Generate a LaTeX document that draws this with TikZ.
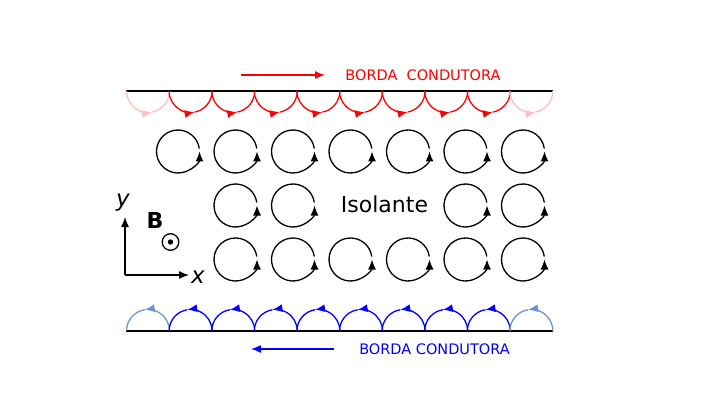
\documentclass[tikz,border=0pt]{standalone}
\usepackage{fontspec}
\setmainfont{DejaVu Sans}
\usetikzlibrary{arrows.meta}
\definecolor{palered}{RGB}{255,190,190}
\definecolor{paleblue}{RGB}{105,150,210}
\tikzset{>={Latex[length=10pt,width=8pt]}}

\begin{document}
\begin{tikzpicture}[x=1pt,y=1pt,line width=1.3pt,
    label/.style={inner sep=0pt,anchor=base}]
  \useasboundingbox (0,0) rectangle (720,405);
  % bordas
  \draw (126,314) coordinate (t1) -- (553,314) coordinate (t2);
  \draw (126,74) coordinate (b1) -- (553,74) coordinate (b2);
  % estados de borda
  \foreach \I in {0,...,9} {%
    \pgfmathsetmacro{\X}{148+42.6*\I}
    \pgfmathsetmacro{\C}{ifthenelse(\I==0 || \I==9,"palered","red")}
    \pgfmathsetmacro{\D}{ifthenelse(\I==0 || \I==9,"paleblue","blue")}
    \draw[\C,->] (\X,314)+(180:21.5pt) arc (180:281:21.5pt);
    \draw[\C] (\X,314)+(281:21.5pt) arc (281:360:21.5pt);
    \draw[\D,->] (\X,74)+(0:21.5pt) arc (0:99:21.5pt);
    \draw[\D] (\X,74)+(99:21.5pt) arc (99:180:21.5pt);
  }
  % orbitas de ciclotron
  \foreach \X in {178,235.5,293,350.5,408,465.5,523} {%
    \draw[->] (\X,253.5)+(8:21.5pt) arc (8:360:21.5pt);
  }
  \foreach \X in {235.5,293,465.5,523} {%
    \draw[->] (\X,199.5)+(8:21.5pt) arc (8:360:21.5pt);
  }
  \foreach \X in {235.5,293,350.5,408,465.5,523} {%
    \draw[->] (\X,145.5)+(8:21.5pt) arc (8:360:21.5pt);
  }
  \node[label,font=\fontsize{22}{22}\selectfont] (iso) at (384.5,192.7) {Isolante};
  % textos das bordas
  \coordinate (ra) at (241,330);
  \coordinate (rb) at (325,330);
  \draw[red,->] (ra) -- (rb);
  \node[label,red,font=\fontsize{14.5}{14.5}\selectfont] (topo) at (423,324.7) {BORDA\ \ CONDUTORA};
  \coordinate (ba) at (334,56);
  \coordinate (bb) at (251,56);
  \draw[blue,->] (ba) -- (bb);
  \node[label,blue,font=\fontsize{14.5}{14.5}\selectfont] (base) at (434.5,50.8) {BORDA CONDUTORA};
  % eixos e campo
  \coordinate (o) at (125,130);
  \coordinate (ey) at (125,188);
  \coordinate (ex) at (189,130);
  \draw[->] (o) -- (ey);
  \draw[->] (o) -- (ex);
  \node[font=\fontsize{23}{23}\selectfont\itshape,inner sep=0pt] (ly) at (123,202) {y};
  \node[font=\fontsize{23}{23}\selectfont\itshape,inner sep=0pt] (lx) at (198,128) {x};
  \node[font=\fontsize{22}{22}\selectfont\bfseries,inner sep=0pt] (cB) at (155,185) {B};
  \draw (170.5,163) circle (8.3pt);
  \draw[fill] (170.5,163) circle (2pt);
\end{tikzpicture}
\end{document}
